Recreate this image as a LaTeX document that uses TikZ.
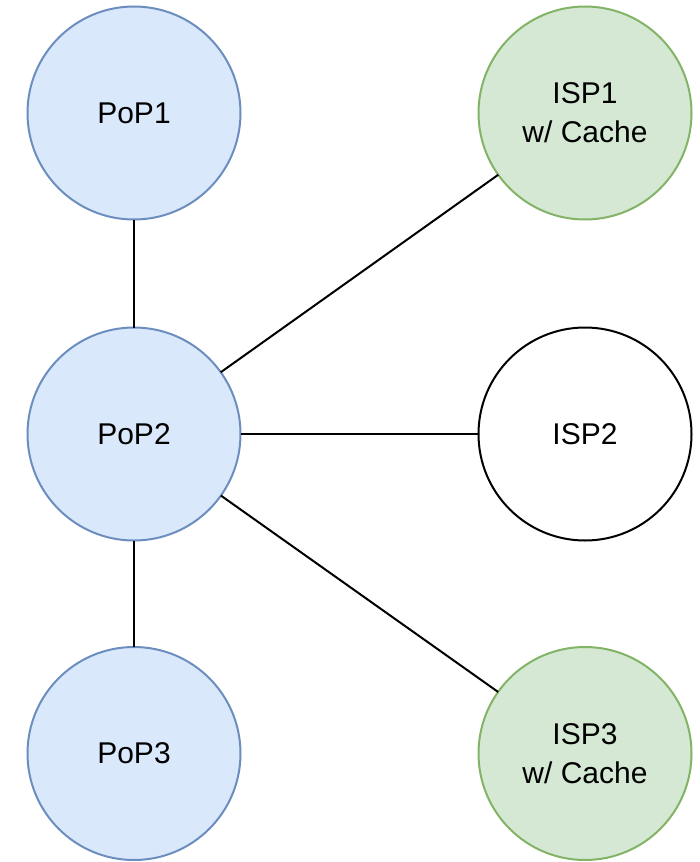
\documentclass[tikz,border=0pt]{standalone}
\usepackage{fontspec}
\setmainfont{Liberation Sans}
\definecolor{popfill}{HTML}{DAE8FC}
\definecolor{popline}{HTML}{6C8EBF}
\definecolor{ispfill}{HTML}{D5E8D4}
\definecolor{ispline}{HTML}{82B366}
\begin{document}
\begin{tikzpicture}[x=1pt,y=1pt,
  site/.style={circle, minimum size=213pt, inner sep=0pt, outer sep=0pt,
    line width=2pt, align=center,
    font=\fontsize{30}{39}\selectfont},
  pop/.style={site, draw=popline, fill=popfill},
  cache/.style={site, draw=ispline, fill=ispfill},
  plain/.style={site, draw=black, fill=white},
  link/.style={draw=black, line width=2pt}]
\useasboundingbox (0,0) rectangle (700,-862);
\node[pop] (pop1) at (134,-113) {PoP1};
\node[pop] (pop2) at (134,-434) {PoP2};
\node[pop] (pop3) at (134,-753.5) {PoP3};
\node[cache] (isp1) at (585,-113) {ISP1\\w/ Cache};
\node[plain] (isp2) at (585,-434) {ISP2};
\node[cache] (isp3) at (585,-753.5) {ISP3\\w/ Cache};
\draw[link] (pop1) -- (pop2);
\draw[link] (pop2) -- (pop3);
\draw[link] (pop2) -- (isp1);
\draw[link] (pop2) -- (isp2);
\draw[link] (pop2) -- (isp3);
\end{tikzpicture}
\end{document}
